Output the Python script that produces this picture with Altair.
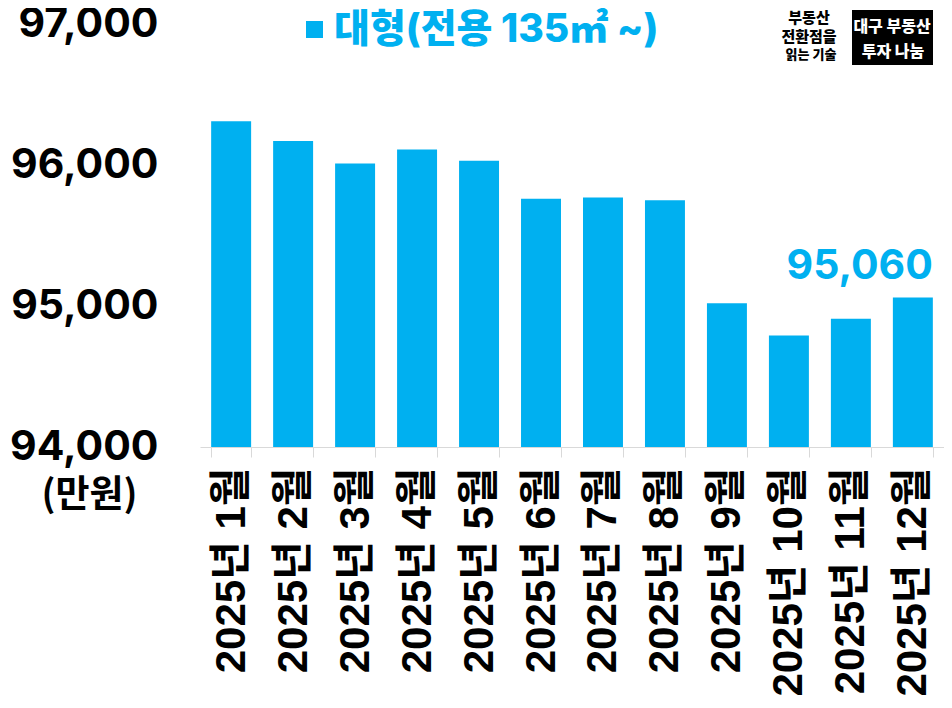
import altair as alt
import pandas as pd

months = ["2025년 1월", "2025년 2월", "2025년 3월", "2025년 4월", "2025년 5월", "2025년 6월",
          "2025년 7월", "2025년 8월", "2025년 9월", "2025년 10월", "2025년 11월", "2025년 12월"]
values = [96310, 96170, 96010, 96110, 96030, 95760, 95770, 95750, 95020, 94790, 94910, 95060]
series_name = "대형(전용 135㎡ ~)"
y_ticks = [94000, 95000, 96000, 97000]
unit_label = "(만원)"
logo_left = ["부동산", "전환점을", "읽는 기술"]
logo_box = ["대구 부동산", "투자 나눔"]

BLUE = "#00B0F0"
FONT = "Inter, Noto Sans CJK KR, sans-serif"
XFONT = "Liberation Sans, Noto Sans CJK KR, sans-serif"
CJK = "Noto Sans CJK KR, sans-serif"

df = pd.DataFrame({"month": months, "value": values, "series": series_name})

x_enc = alt.X(
    "month:N", sort=months, title=None,
    scale=alt.Scale(paddingInner=0.355, paddingOuter=0.18),
    axis=alt.Axis(labelAngle=-90, labelFontSize=42, labelFont=XFONT, labelFontWeight="bold",
                  labelColor="black", labelPadding=10, tickSize=10, tickColor="#D9D9D9",
                  domainColor="#D9D9D9", tickBand="extent", labelLimit=0),
)
y_enc = alt.Y(
    "value:Q",
    scale=alt.Scale(domain=[94000, 97000], zero=False, nice=False),
    axis=alt.Axis(values=y_ticks, format=",.0f", grid=False, domain=False, ticks=False,
                  labelAlign="right", labelBaseline="middle", labelPadding=42,
                  labelFontSize=41, labelFont=FONT, labelFontWeight="bold", labelColor="black",
                  labelFlush=False, labelOverlap=False,
                  title=unit_label, titleAngle=0, titleX=-111, titleY=471, titleFontSize=37,
                  titleFont=CJK, titleFontWeight="bold", titleColor="black",
                  titleAlign="center", titleBaseline="middle"),
)

bars = alt.Chart(df).mark_bar().encode(
    x=x_enc, y=y_enc, y2=alt.datum(94000),
    color=alt.Color("series:N", scale=alt.Scale(range=[BLUE]),
                    legend=alt.Legend(title=None, orient="none", legendX=95, legendY=-14,
                                      symbolType="square", symbolSize=289, symbolStrokeWidth=0,
                                      symbolOpacity=1, symbolFillColor=BLUE,
                                      labelFontSize=39, labelFont=FONT, labelFontWeight=800,
                                      labelColor=BLUE, labelOffset=0, padding=0, labelLimit=0)),
)

last = alt.Chart(df).transform_filter(alt.datum.month == months[-1]).mark_text(
    align="right", baseline="alphabetic", dx=20, dy=-19, fontSize=41, font=FONT,
    fontWeight="bold", color=BLUE,
).encode(x=x_enc, y=y_enc, text=alt.Text("value:Q", format=",.0f"))

dummy = pd.DataFrame({"k": [0]})
box = alt.Chart(dummy).mark_rect(color="black").encode(
    x=alt.value(652), x2=alt.value(733), y=alt.value(-14), y2=alt.value(41))

def txt(s, xx, yy, size, color):
    return alt.Chart(dummy).mark_text(
        text=s, font=CJK, fontWeight=900, fontSize=size, color=color,
        align="center", baseline="middle").encode(x=alt.value(xx), y=alt.value(yy))

logo = [
    txt(logo_left[0], 609, -6.5, 15, "black"),
    txt(logo_left[1], 609, 12.5, 15, "black"),
    txt(logo_left[2], 611, 31, 13, "black"),
    txt(logo_box[0], 692, 3, 16, "white"),
    txt(logo_box[1], 693, 28, 16, "white"),
]

chart = alt.layer(bars, last, box, *logo).properties(
    width=744, height=423,
    autosize=alt.AutoSizeParams(type="none"),
    padding={"left": 192, "top": 16, "right": 0, "bottom": 250},
).configure_view(stroke=None)

chart.save("out.html", embed_options={"renderer": "svg", "actions": False})
